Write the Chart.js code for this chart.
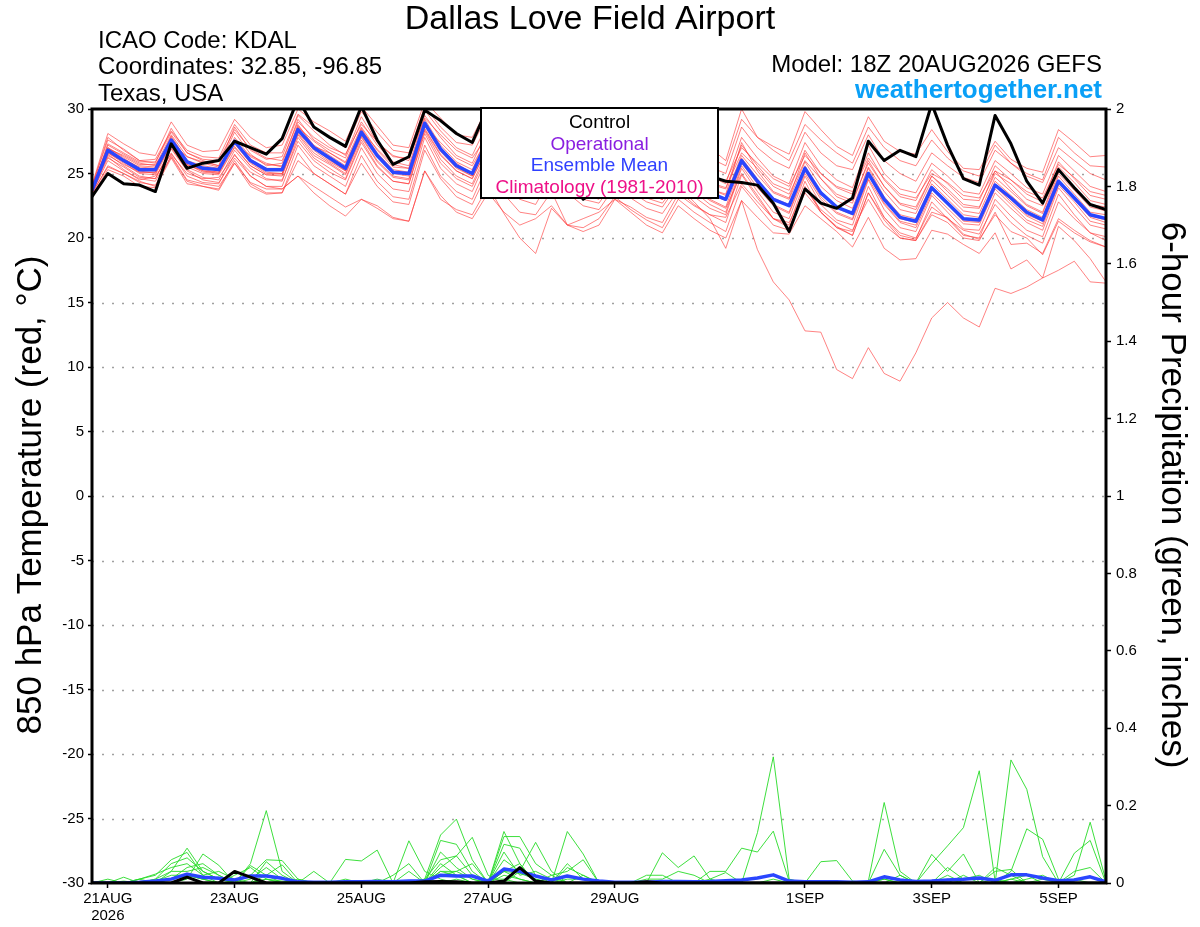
<!DOCTYPE html>
<html><head><meta charset="utf-8">
<script src="https://cdn.jsdelivr.net/npm/chart.js@4.4.1/dist/chart.umd.min.js"></script>
<style>html,body{margin:0;padding:0;background:#fff;}canvas{display:block;}</style>
</head><body>
<canvas id="c" width="1200" height="927" style="width:1200px;height:927px"></canvas>
<script>
// forecast hours after 18Z 20AUG2026 (6-hourly)
const forecastHours = [0,6,12,18,24,30,36,42,48,54,60,66,72,78,84,90,96,102,108,114,120,126,132,138,144,150,156,162,168,174,180,186,192,198,204,210,216,222,228,234,240,246,252,258,264,270,276,282,288,294,300,306,312,318,324,330,336,342,348,354,360,366,372,378,384];
const xTickHours = [6,54,102,150,198,270,318,366];
const xTickLabels = [['21AUG','2026'],'23AUG','25AUG','27AUG','29AUG','1SEP','3SEP','5SEP'];
const tempTicks = [-30,-25,-20,-15,-10,-5,0,5,10,15,20,25,30];
const precipTicks = [0,0.2,0.4,0.6,0.8,1,1.2,1.4,1.6,1.8,2];

// 850 hPa temperature (°C)
const tempControl = [23.2, 25.0,24.2,24.1,23.6, 27.3,25.4,25.8,26.0, 27.5,27.0,26.5,27.7, 30.8,28.6,27.8,27.1, 30.2,27.6,25.7,26.3, 29.9,29.1,28.1,27.4, 30.2,28.5,27.2,26.0, 27.0,25.0,23.0,23.8, 25.5,24.5,24.0,24.2, 25.5,25.0,24.8,24.4, 24.3,24.1,22.7,20.5, 23.8,22.7,22.3,23.1, 27.5,26.0,26.8,26.3, 30.4,27.2,24.6,24.1, 29.5,27.3,24.4,22.7, 25.3,23.9,22.6,22.2];
const tempMean = [23.7, 26.8,26.0,25.3,25.3, 27.6,25.9,25.4,25.3, 27.5,26.0,25.3,25.3, 28.4,27.0,26.2,25.4, 28.2,26.4,25.1,25.0, 28.9,26.9,25.6,25.0, 27.6,26.0,25.0,24.6, 26.3,25.2,24.3,24.0, 25.6,24.8,24.0,23.6, 25.2,24.3,23.5,23.0, 26.0,24.4,23.0,22.5, 25.4,23.5,22.4,21.9, 25.0,23.0,21.6,21.3, 23.9,22.7,21.5,21.4, 24.1,23.1,22.0,21.4, 24.4,23.1,21.8,21.5];
const tempMember01 = [24.1, 28.1,27.3,26.6,26.4, 29.0,27.2,26.7,26.8, 29.2,27.8,27.0,27.2, 30.0,29.0,28.3,27.5, 30.2,28.7,27.2,27.0, 30.6,29.3,28.0,27.8, 30.2,28.6,27.5,27.0, 28.8,27.8,27.0,26.5, 28.2,27.4,26.5,26.0, 29.5,28.0,27.0,26.0, 30.0,27.8,27.1,26.5, 29.8,28.4,27.1,26.4, 29.4,27.5,26.7,26.5, 28.4,26.7,25.4,25.3, 27.5,26.1,25.4,25.1, 28.4,27.4,26.3,26.4];
const tempMember02 = [24.0, 27.6,26.9,26.0,25.8, 28.5,26.6,26.0,25.6, 28.6,26.8,26.1,26.3, 29.5,28.3,27.2,26.4, 29.4,27.4,26.4,26.0, 29.9,28.3,27.0,26.4, 29.0,27.5,26.5,26.0, 27.6,26.8,26.0,25.5, 27.0,26.2,25.5,25.0, 27.8,26.5,25.5,25.0, 28.6,27.0,26.0,25.4, 28.2,26.6,25.6,25.3, 28.0,26.0,25.0,24.4, 26.6,25.6,24.7,24.3, 26.8,25.8,24.8,24.3, 27.0,26.0,25.0,24.5];
const tempMember03 = [23.8, 27.2,26.5,25.8,25.6, 28.0,26.3,25.9,25.6, 28.2,26.5,25.6,25.8, 29.2,27.6,26.8,26.2, 29.0,27.2,25.9,25.6, 29.5,27.8,26.4,25.8, 28.5,26.8,25.8,25.4, 27.0,26.0,25.2,24.8, 26.5,25.6,24.9,24.5, 26.8,25.6,24.8,24.2, 27.8,26.2,24.8,24.2, 27.4,25.6,24.5,23.9, 27.2,25.0,23.8,23.5, 25.8,24.8,23.6,23.4, 26.0,25.0,23.9,23.4, 26.4,25.2,24.0,23.6];
const tempMember04 = [23.5, 27.0,26.2,25.4,25.2, 27.9,26.0,25.2,25.0, 27.8,26.3,25.7,25.6, 28.8,27.1,26.6,25.9, 28.6,26.8,25.5,25.4, 29.2,27.2,25.9,25.3, 28.0,26.4,25.4,25.0, 26.6,25.6,24.8,24.5, 26.1,25.2,24.5,24.1, 26.2,25.0,24.2,23.8, 27.2,25.6,24.2,23.7, 26.8,25.0,23.9,23.4, 26.6,24.5,23.2,22.9, 25.3,24.2,23.0,22.9, 25.6,24.5,23.4,22.8, 25.9,24.6,23.3,23.0];
const tempMember05 = [24.0, 26.9,26.4,25.7,25.7, 27.4,26.3,25.8,25.5, 27.3,26.4,25.8,25.5, 28.6,27.5,26.6,25.8, 28.3,26.9,25.7,25.4, 28.7,27.4,26.2,25.6, 27.8,26.5,25.7,25.2, 26.4,25.8,25.0,24.6, 25.9,25.4,24.7,24.3, 25.8,25.0,24.3,23.9, 26.6,25.4,24.0,23.4, 26.0,24.6,23.4,22.9, 25.8,24.0,22.7,22.4, 24.8,23.8,22.6,22.4, 25.0,24.2,23.0,22.5, 25.5,24.3,22.9,22.6];
const tempMember06 = [23.6, 26.6,25.8,25.0,24.9, 27.2,25.5,25.0,24.9, 27.0,25.6,24.9,24.9, 28.1,26.6,25.8,25.0, 27.9,26.0,24.8,24.6, 28.5,26.5,25.2,24.6, 27.2,25.6,24.6,24.2, 26.0,24.9,24.0,23.8, 25.3,24.6,23.8,23.3, 25.0,24.2,23.4,22.9, 26.2,24.6,23.0,22.5, 25.6,23.6,22.4,22.0, 25.4,23.2,21.8,21.5, 24.2,23.0,21.8,21.6, 24.4,23.3,22.2,21.6, 24.8,23.4,22.0,21.8];
const tempMember07 = [23.4, 26.5,25.6,24.8,24.6, 27.0,25.3,24.7,24.5, 26.8,25.4,24.6,24.4, 27.8,26.2,25.4,24.6, 27.6,25.6,24.4,24.2, 28.3,26.1,24.8,24.2, 26.9,25.2,24.2,23.8, 25.6,24.6,23.6,23.2, 24.9,24.2,23.4,23.0, 24.6,23.8,23.0,22.4, 25.8,24.2,22.6,22.0, 25.2,23.2,22.0,21.5, 24.9,22.7,21.3,21.0, 23.8,22.6,21.3,21.2, 24.0,22.8,21.7,21.1, 24.4,23.0,21.6,21.2];
const tempMember08 = [24.0, 26.9,26.1,25.5,25.4, 27.8,26.0,25.6,25.4, 27.6,26.1,25.4,25.4, 28.7,27.2,26.4,25.6, 28.5,26.6,25.3,25.1, 29.0,27.0,25.8,25.0, 27.7,26.2,25.2,24.7, 26.5,25.4,24.6,24.3, 25.8,25.0,24.3,23.9, 25.5,24.6,23.8,23.3, 26.4,24.9,23.5,23.0, 25.9,24.0,22.9,22.3, 25.5,23.6,22.2,21.9, 24.5,23.3,22.1,21.9, 24.7,23.6,22.5,21.9, 25.0,23.7,22.4,22.1];
const tempMember09 = [23.9, 26.4,25.7,25.1,25.1, 27.3,25.7,25.2,25.1, 27.3,25.8,25.0,25.0, 28.2,26.8,25.9,25.2, 28.0,26.3,25.0,24.8, 28.8,26.8,25.5,24.8, 27.4,25.9,24.9,24.4, 26.1,25.1,24.2,23.9, 25.5,24.7,23.9,23.5, 25.2,24.3,23.4,23.0, 26.0,24.5,23.1,22.6, 25.4,23.5,22.3,21.8, 24.9,23.0,21.5,21.2, 23.8,22.6,21.4,21.3, 24.0,23.0,21.8,21.3, 24.3,23.0,21.7,21.4];
const tempMember10 = [23.7, 27.3,26.6,25.9,25.9, 28.2,26.6,26.1,26.0, 28.4,26.9,26.2,26.0, 29.0,27.8,27.0,26.5, 28.8,27.5,26.3,26.2, 29.3,28.0,26.8,26.2, 28.0,27.0,26.2,25.8, 26.9,26.3,25.6,25.3, 26.4,25.9,25.2,24.9, 26.0,25.4,24.8,24.4, 27.0,25.8,24.6,24.0, 26.4,25.0,24.0,23.6, 26.2,24.6,23.4,23.1, 25.0,24.3,23.3,23.1, 25.2,24.5,23.6,23.1, 25.7,24.7,23.6,23.3];
const tempMember11 = [23.5, 26.0,25.2,24.6,24.4, 26.6,24.8,24.3,24.2, 26.5,24.8,24.0,24.0, 27.2,25.6,24.8,24.0, 27.0,25.0,23.8,23.6, 27.8,25.4,24.2,23.6, 26.4,24.6,23.6,23.2, 25.2,24.0,23.0,22.7, 24.5,23.6,22.8,22.4, 24.2,23.2,22.3,21.8, 25.4,23.6,22.0,21.5, 24.8,22.6,21.4,21.0, 24.5,22.2,20.8,20.5, 23.3,22.0,20.7,20.6, 23.5,22.3,21.2,20.6, 23.9,22.4,21.0,20.7];
const tempMember12 = [23.4, 25.6,25.0,24.3,24.1, 26.3,24.4,24.0,23.8, 26.0,24.2,23.5,23.5, 26.6,25.0,24.2,23.4, 26.4,24.4,23.2,23.0, 27.2,24.8,23.6,23.0, 25.8,24.0,23.0,22.6, 24.8,23.5,22.5,22.2, 24.0,23.1,22.3,21.9, 23.7,22.6,21.8,21.2, 24.9,23.1,21.5,21.0, 24.4,22.0,20.8,20.5, 24.0,21.6,20.2,19.9, 22.8,21.5,20.2,20.0, 23.0,21.7,20.6,20.1, 23.4,21.8,20.4,20.1];
const tempMember13 = [23.6, 26.2,25.5,24.7,24.6, 26.9,25.2,24.5,24.3, 26.2,24.8,24.0,23.8, 24.8,24.0,23.2,22.4, 23.0,22.5,21.6,21.3, 25.2,23.0,22.2,21.8, 24.0,21.9,20.0,18.8, 22.3,21.0,21.5,22.0, 23.0,22.4,21.6,21.2, 23.4,22.5,21.8,21.6, 24.2,22.8,21.5,21.2, 23.8,22.2,21.2,20.6, 23.0,21.0,20.0,19.8, 21.8,21.2,20.0,19.8, 22.0,19.5,19.6,18.8, 21.5,20.6,19.8,19.3];
const tempMember14 = [23.3, 25.3,24.8,24.0,23.9, 26.2,24.2,24.0,23.7, 25.8,24.0,23.4,23.5, 26.0,25.0,24.2,23.4, 25.8,24.0,22.8,22.6, 26.8,24.6,23.2,22.6, 25.2,23.4,22.0,21.8, 23.6,21.0,20.5,21.0, 23.0,22.0,21.0,20.4, 22.5,21.5,20.6,20.0, 22.9,21.6,20.4,20.3, 22.5,21.5,20.5,19.3, 21.6,19.2,18.3,18.4, 20.6,20.3,19.5,18.8, 20.4,17.6,18.3,16.9, 20.9,19.8,18.4,16.6];
const tempMember15 = [23.8, 26.6,25.9,25.2,25.0, 27.4,25.7,25.1,25.0, 27.1,25.6,24.9,24.8, 28.0,26.4,25.7,24.9, 27.8,25.9,24.7,24.5, 28.4,26.4,25.2,24.6, 27.0,25.5,24.5,24.0, 25.8,24.8,23.8,23.4, 25.0,24.2,23.4,23.0, 24.0,22.8,21.5,19.2, 22.9,19.1,16.6,15.2, 12.8,12.7,9.8,9.1, 11.5,9.5,8.9,11.1, 13.8,15.0,13.8,13.1, 16.1,15.7,16.2,16.9, 17.5,18.2,16.6,16.5];
const tempMember16 = [23.9, 27.0,26.3,25.6,25.5, 27.7,25.9,25.5,25.3, 27.6,26.0,25.4,25.2, 28.5,27.0,26.0,25.3, 28.3,26.3,25.1,24.9, 28.7,26.7,25.4,24.8, 27.5,25.6,24.6,24.3, 26.0,24.9,23.9,23.5, 25.4,24.4,23.5,23.0, 24.8,23.8,22.9,22.3, 25.0,23.3,21.5,20.8, 23.5,22.0,20.9,20.2, 23.5,21.4,20.0,19.8, 22.0,21.6,20.3,19.9, 21.8,20.5,20.0,18.7, 21.3,20.4,19.7,19.3];
const tempMember17 = [24.0, 27.8,26.8,26.0,26.1, 28.3,26.8,26.3,26.2, 28.8,27.2,26.6,26.6, 29.6,28.6,27.8,27.0, 29.8,28.2,26.8,26.6, 30.2,28.6,27.4,27.2, 29.6,28.0,27.0,26.6, 28.2,27.4,26.5,26.0, 27.5,26.8,26.0,25.6, 28.6,27.2,26.2,25.6, 29.2,27.8,26.8,26.0, 28.8,27.6,26.6,25.8, 28.6,27.0,26.0,25.6, 27.6,26.2,25.2,24.8, 27.2,25.8,25.0,24.5, 27.8,26.6,25.6,25.5];
const tempMember18 = [23.5, 26.7,25.9,25.1,25.1, 27.5,25.6,25.3,25.1, 27.5,25.9,25.1,25.0, 28.4,27.0,26.1,25.2, 28.4,26.5,25.1,25.0, 29.0,27.0,25.6,25.0, 27.8,26.1,25.0,24.6, 26.4,25.4,24.4,24.1, 25.8,25.0,24.1,23.8, 25.6,24.6,23.8,23.4, 27.4,25.2,23.6,23.1, 26.6,24.6,23.2,22.7, 26.0,24.0,22.6,22.2, 24.8,23.6,22.4,22.3, 25.2,23.8,22.6,22.0, 25.3,24.0,22.6,22.4];
const tempMember19 = [23.8, 26.3,25.3,24.5,24.8, 26.5,25.0,24.6,24.7, 26.4,25.1,24.5,24.5, 27.5,26.0,25.1,24.5, 27.4,25.5,24.4,24.2, 28.1,25.8,24.6,24.0, 26.6,25.0,24.0,23.6, 25.4,24.4,23.4,23.0, 24.8,24.0,23.1,22.7, 24.4,23.6,22.6,22.0, 25.6,23.9,22.5,21.9, 25.0,23.0,21.9,21.4, 24.6,22.6,21.2,20.8, 23.5,22.3,21.1,21.0, 23.8,22.6,21.4,20.9, 24.1,22.8,21.3,21.0];
const tempMember20 = [23.5, 25.5,25.0,24.4,24.0, 26.4,24.5,24.2,24.0, 25.8,24.3,23.8,23.8, 24.8,23.5,22.5,21.7, 23.0,22.3,21.5,21.3, 25.2,23.3,22.0,21.5, 23.5,22.0,21.0,21.5, 22.5,21.0,20.8,21.5, 23.2,22.2,21.4,20.8, 23.0,22.0,21.2,20.5, 24.0,22.5,21.0,20.6, 24.0,22.0,20.8,20.2, 23.5,21.6,20.4,20.0, 22.4,21.5,20.6,20.3, 22.6,21.2,20.2,19.6, 22.8,21.5,20.4,19.8];

// 6-hour precipitation (inches)
const precipControl = [0, 0,0,0,0, 0,0.015,0,0, 0.03,0.015,0,0, 0,0,0,0, 0,0,0,0, 0.003,0.004,0.003,0, 0,0.005,0.04,0.005, 0,0,0,0, 0,0,0.003,0, 0,0,0,0, 0,0,0,0, 0,0,0,0, 0,0,0,0, 0,0,0,0, 0,0,0,0, 0,0,0,0];
const precipMean = [0, 0,0,0.002,0.005, 0.01,0.023,0.015,0.012, 0.008,0.018,0.018,0.012, 0.003,0.002,0.002,0.003, 0.003,0.004,0.003,0.005, 0.005,0.02,0.018,0.018, 0.005,0.036,0.03,0.018, 0.008,0.018,0.01,0.005, 0.002,0.002,0.002,0.004, 0.004,0.003,0.004,0.006, 0.008,0.013,0.021,0.005, 0.003,0.003,0.003,0.002, 0.003,0.016,0.008,0.004, 0.005,0.008,0.01,0.013, 0.007,0.021,0.021,0.013, 0.006,0.008,0.016,0.003];
const precipMember01 = [0, 0,0,0,0.01, 0.03,0.09,0.03,0.01, 0,0,0.01,0, 0,0,0,0, 0,0,0,0, 0.01,0.124,0.165,0.06, 0,0.02,0.01,0, 0,0,0,0, 0,0,0,0, 0,0,0,0, 0,0.13,0.326,0.01, 0,0,0,0, 0,0.01,0,0, 0,0,0,0, 0,0.318,0.242,0.068, 0,0.02,0.157,0.005];
const precipMember02 = [0, 0,0,0,0, 0,0.02,0.01,0, 0,0.05,0.187,0.03, 0,0,0,0, 0,0,0,0, 0,0.03,0.02,0, 0,0.03,0.01,0, 0,0,0,0, 0,0,0,0, 0,0,0.03,0.03, 0.09,0.08,0.134,0.005, 0,0,0,0, 0,0,0,0, 0.05,0.096,0.143,0.29, 0.005,0,0,0, 0,0.077,0.11,0];
const precipMember03 = [0, 0,0,0,0, 0,0,0,0, 0,0,0,0, 0,0,0,0.061, 0.057,0.085,0,0, 0,0,0,0, 0,0.133,0.05,0, 0,0,0,0, 0,0,0,0, 0,0,0,0, 0,0,0,0, 0,0,0,0, 0.005,0.208,0.03,0, 0,0,0,0, 0,0.03,0.14,0.113, 0.01,0,0,0];
const precipMember04 = [0, 0,0,0,0, 0,0,0,0, 0,0,0,0, 0,0,0,0, 0,0,0,0.109, 0.03,0.01,0,0, 0,0,0,0, 0,0.133,0.075,0, 0,0,0,0, 0,0,0,0, 0,0,0,0, 0,0.055,0.058,0.005, 0,0,0,0, 0.074,0.03,0.075,0, 0.03,0.035,0,0, 0,0.03,0.04,0];
const precipMember05 = [0, 0,0,0,0, 0,0.01,0.075,0.046, 0,0,0,0, 0,0,0,0, 0,0,0,0, 0,0.04,0.07,0.118, 0.02,0,0.03,0.105, 0.03,0,0,0, 0,0,0,0.078, 0.04,0.07,0.01,0, 0,0,0,0, 0,0,0,0, 0,0.087,0.02,0, 0,0,0,0, 0,0,0,0, 0,0,0,0];
const precipMember06 = [0, 0,0,0.01,0.02, 0.06,0.079,0.02,0, 0,0,0.02,0, 0,0,0,0, 0,0,0,0, 0,0.11,0.1,0.03, 0,0.12,0.12,0.05, 0.02,0.03,0.06,0, 0,0,0,0, 0,0,0,0, 0,0,0,0, 0,0,0,0, 0,0,0,0, 0,0,0,0, 0,0,0,0, 0,0,0,0];
const precipMember07 = [0, 0,0,0,0.01, 0.05,0.065,0.03,0.01, 0,0.02,0.06,0.058, 0.01,0,0,0, 0,0,0,0, 0,0.08,0.04,0.01, 0,0.1,0.09,0.02, 0,0.05,0.01,0, 0,0,0,0, 0,0,0,0, 0,0,0,0, 0,0,0,0, 0,0,0,0, 0,0.02,0,0, 0,0,0.01,0.02, 0,0,0,0];
const precipMember08 = [0, 0,0,0.01,0.023, 0.04,0.05,0.02,0.03, 0.01,0,0.055,0.02, 0,0,0,0, 0,0,0,0, 0.01,0.06,0.07,0.02, 0,0.08,0.02,0.03, 0.01,0,0,0, 0,0,0.02,0.02, 0,0,0,0, 0,0,0,0, 0,0,0,0, 0,0,0,0, 0,0,0.02,0, 0,0,0,0, 0,0.01,0,0];
const precipMember09 = [0, 0,0.015,0,0, 0.01,0.04,0.05,0.02, 0,0.045,0.02,0.047, 0,0.03,0,0, 0,0,0.02,0.05, 0,0.02,0.03,0.05, 0,0.06,0.03,0.01, 0,0.04,0.02,0, 0,0,0,0, 0,0,0,0, 0,0,0,0, 0,0,0,0, 0,0,0,0, 0,0,0,0, 0.04,0.02,0,0, 0,0,0,0];
const precipMember10 = [0, 0,0,0,0, 0.03,0.03,0.04,0.02, 0,0.01,0.04,0.01, 0,0,0,0, 0,0,0,0.03, 0,0.05,0.02,0, 0,0.03,0.05,0, 0.02,0,0,0, 0,0,0,0, 0,0,0.01,0.027, 0,0,0,0, 0,0,0,0, 0,0,0,0, 0,0.04,0.01,0.02, 0,0.01,0.02,0, 0,0,0,0];
const precipMember11 = [0, 0.01,0,0.01,0, 0.01,0.02,0.01,0, 0.02,0.04,0.01,0, 0.01,0,0,0.01, 0,0.01,0,0, 0,0,0.01,0, 0.01,0.01,0,0, 0,0,0.02,0, 0,0,0.01,0.01, 0.03,0.02,0,0, 0,0,0,0, 0.005,0.005,0,0, 0,0,0.02,0, 0,0,0,0, 0.01,0,0,0, 0,0,0,0];
const precipMember12 = [0, 0,0.005,0,0.005, 0.02,0.02,0.01,0.015, 0,0,0.01,0.005, 0,0,0,0, 0,0,0,0, 0,0.03,0.03,0.01, 0,0.03,0.025,0.01, 0,0.01,0.01,0, 0,0,0,0, 0,0,0,0, 0,0,0.01,0, 0,0,0,0, 0,0.01,0,0, 0,0.01,0,0, 0,0.01,0,0.01, 0,0,0,0];

const tempMembers = [tempMember01,tempMember02,tempMember03,tempMember04,tempMember05,tempMember06,tempMember07,tempMember08,tempMember09,tempMember10,tempMember11,tempMember12,tempMember13,tempMember14,tempMember15,tempMember16,tempMember17,tempMember18,tempMember19,tempMember20];
const precipMembers = [precipMember01,precipMember02,precipMember03,precipMember04,precipMember05,precipMember06,precipMember07,precipMember08,precipMember09,precipMember10,precipMember11,precipMember12];

const FONT = "'Liberation Sans', Arial, Helvetica, sans-serif";
const pts = arr => arr.map((v, i) => ({x: forecastHours[i], y: v}));
const line = (arr, axis, color, width) => ({
  data: pts(arr), yAxisID: axis, borderColor: color, borderWidth: width,
  pointRadius: 0, tension: 0, fill: false, borderJoinStyle: 'round'
});

const datasets = [
  line(tempControl, 'yT', '#000000', 3),
  line(tempMean, 'yT', '#2a46ff', 3.5),
  line(precipControl, 'yP', '#000000', 3),
  line(precipMean, 'yP', '#2a46ff', 3.5),
  ...tempMembers.map(m => line(m, 'yT', 'rgba(255,55,55,0.62)', 1)),
  ...precipMembers.map(m => line(m, 'yP', 'rgba(40,220,40,0.9)', 1))
];

const decor = {
  id: 'decor',
  beforeDatasetsDraw(chart) {
    const {ctx, chartArea: a, scales} = chart;
    ctx.save();
    ctx.strokeStyle = '#a0a0a0'; ctx.lineWidth = 1.6; ctx.setLineDash([2, 8]);
    tempTicks.forEach(v => {
      if (v === tempTicks[0] || v === tempTicks[tempTicks.length - 1]) return;
      const y = Math.round(scales.yT.getPixelForValue(v)) + 0.5;
      ctx.beginPath(); ctx.moveTo(a.left, y); ctx.lineTo(a.right, y); ctx.stroke();
    });
    ctx.restore();
  },
  afterDatasetsDraw(chart) {
    const {ctx, chartArea: a} = chart;
    ctx.save();
    ctx.strokeStyle = '#000'; ctx.lineWidth = 3;
    ctx.strokeRect(a.left, a.top, a.right - a.left, a.bottom - a.top);
    // legend box
    const bx = 481, by = 108, bw = 237, bh = 90;
    ctx.fillStyle = '#fff'; ctx.fillRect(bx, by, bw, bh);
    ctx.lineWidth = 2; ctx.strokeRect(bx, by, bw, bh);
    ctx.font = '19px ' + FONT; ctx.textAlign = 'center'; ctx.textBaseline = 'alphabetic';
    const items = [['Control', '#000000'], ['Operational', '#8a1ee0'], ['Ensemble Mean', '#2f40ff'], ['Climatology (1981-2010)', '#ee1188']];
    items.forEach((it, k) => { ctx.fillStyle = it[1]; ctx.fillText(it[0], bx + bw / 2, by + 20 + k * 21.5); });
    ctx.restore();
  },
  afterDraw(chart) {
    const {ctx} = chart;
    ctx.save();
    ctx.fillStyle = '#000'; ctx.textBaseline = 'alphabetic';
    ctx.font = '34px ' + FONT; ctx.textAlign = 'center';
    ctx.fillText('Dallas Love Field Airport', 590, 29);
    ctx.font = '24px ' + FONT; ctx.textAlign = 'left';
    ctx.fillText('ICAO Code: KDAL', 98, 48);
    ctx.fillText('Coordinates: 32.85, -96.85', 98, 74);
    ctx.fillText('Texas, USA', 98, 101);
    ctx.textAlign = 'right';
    ctx.fillText('Model: 18Z 20AUG2026 GEFS', 1102, 72);
    ctx.font = 'bold 26px ' + FONT; ctx.fillStyle = '#0aa0f7';
    ctx.fillText('weathertogether.net', 1102, 98);
    // axis titles
    ctx.fillStyle = '#000'; ctx.font = '35px ' + FONT; ctx.textAlign = 'center'; ctx.textBaseline = 'middle';
    ctx.save(); ctx.translate(31, 495); ctx.rotate(-Math.PI / 2);
    ctx.fillText('850 hPa Temperature (red, \u00B0C)', 0, 0); ctx.restore();
    ctx.save(); ctx.translate(1172, 495); ctx.rotate(Math.PI / 2);
    ctx.fillText('6-hour Precipitation (green, inches)', 0, 0); ctx.restore();
    ctx.restore();
  }
};

new Chart(document.getElementById('c'), {
  type: 'line',
  data: {datasets},
  options: {
    responsive: false, animation: false, devicePixelRatio: 1,
    layout: {padding: {top: 109, left: 0, right: 0, bottom: 0}},
    plugins: {legend: {display: false}, tooltip: {enabled: false}},
    scales: {
      x: {
        type: 'linear', min: forecastHours[0], max: forecastHours[forecastHours.length - 1],
        afterBuildTicks: s => { s.ticks = xTickHours.map(v => ({value: v})); },
        afterFit: s => { s.height = 44; },
        grid: {display: true, drawOnChartArea: false, drawTicks: true, tickLength: 5, tickColor: '#000', tickWidth: 1.5},
        border: {display: false},
        ticks: {
          autoSkip: false, maxRotation: 0, padding: 3, color: '#000',
          font: {family: FONT, size: 15, lineHeight: 1.1},
          callback: (v, i) => xTickLabels[i]
        }
      },
      yT: {
        type: 'linear', position: 'left', min: tempTicks[0], max: tempTicks[tempTicks.length - 1],
        afterBuildTicks: s => { s.ticks = tempTicks.map(v => ({value: v})); },
        afterFit: s => { s.width = 92; },
        grid: {display: true, drawOnChartArea: false, tickLength: 4, tickColor: '#000', tickWidth: 1.5},
        border: {display: false},
        ticks: {color: '#000', padding: 4, font: {family: FONT, size: 15}, callback: v => String(v)}
      },
      yP: {
        type: 'linear', position: 'right', min: precipTicks[0], max: precipTicks[precipTicks.length - 1],
        afterBuildTicks: s => { s.ticks = precipTicks.map(v => ({value: v})); },
        afterFit: s => { s.width = 94; },
        grid: {display: true, drawOnChartArea: false, tickLength: 5, tickColor: '#000', tickWidth: 1.5},
        border: {display: false},
        ticks: {color: '#000', padding: 5, font: {family: FONT, size: 15}, callback: v => String(+v.toFixed(1))}
      }
    }
  },
  plugins: [decor]
});
</script>
</body></html>
